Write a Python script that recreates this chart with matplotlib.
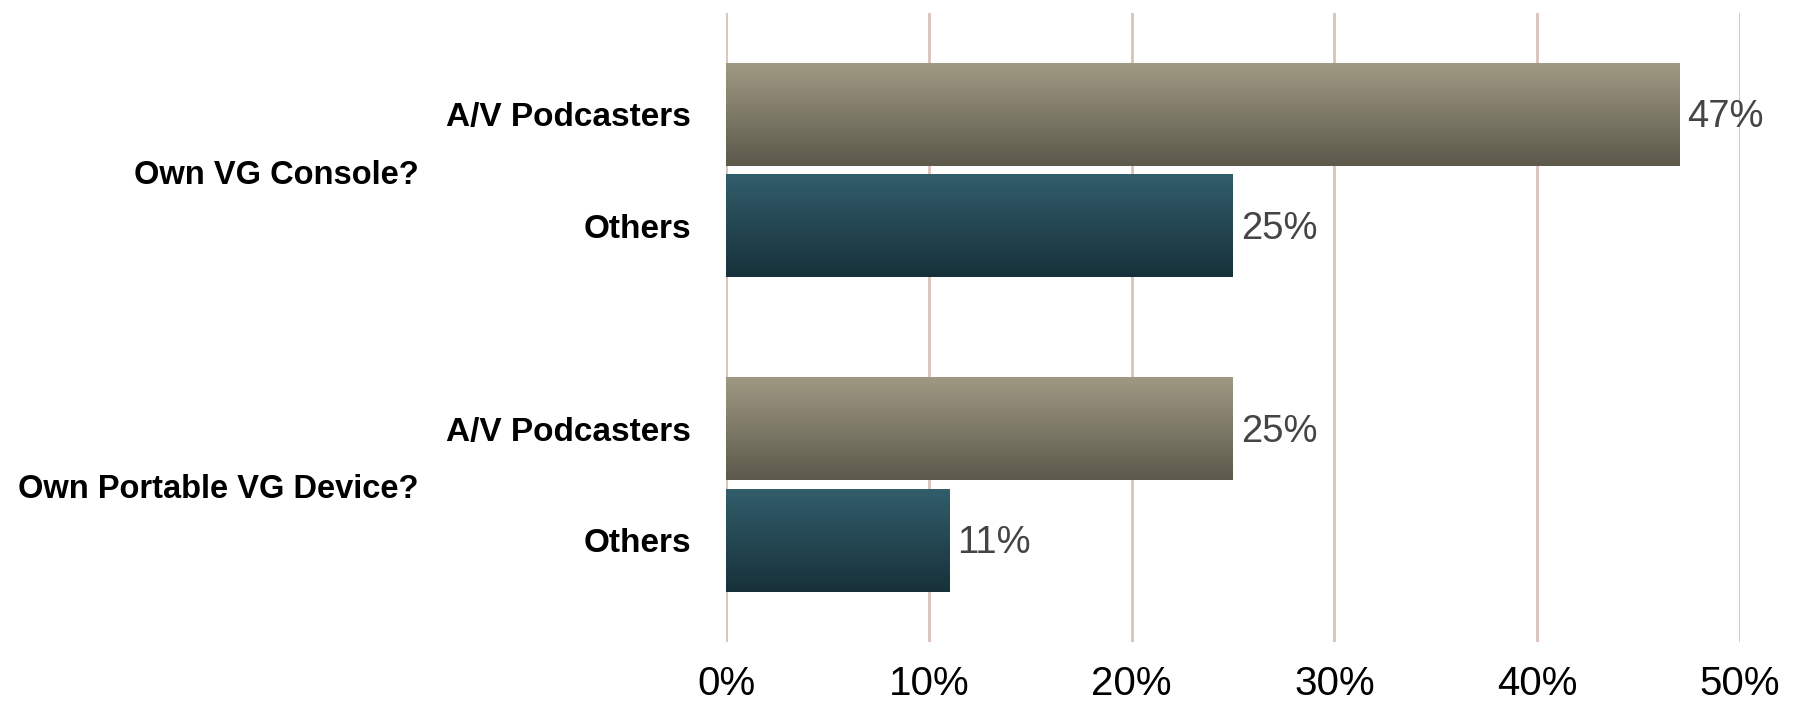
import numpy as np
import matplotlib
matplotlib.use("Agg")
import matplotlib.pyplot as plt
from matplotlib.colors import LinearSegmentedColormap

groups = ["Own VG Console?", "Own Portable VG Device?"]
series = ["A/V Podcasters", "Others"]
podcasters = [47, 25]
others = [25, 11]
xticks = [0, 10, 20, 30, 40, 50]
xticklabels = ["0%", "10%", "20%", "30%", "40%", "50%"]

plt.rcParams['font.family'] = ['Liberation Sans', 'DejaVu Sans']

fig = plt.figure(figsize=(18.01, 7.05), dpi=100)
ax = fig.add_axes([0.4031, 0.0898, 0.5630, 0.892])

grad_colors = [
    ("#a09a84", "#5c594b"),
    ("#325e6c", "#17313a"),
]
bar_h = 0.328
offset = 0.177
ypos_all, ylabels = [], []
for si, vals in enumerate([podcasters, others]):
    top_c, bot_c = grad_colors[si]
    cmap = LinearSegmentedColormap.from_list("g%d" % si, [top_c, bot_c])
    for gi, v in enumerate(vals):
        y = gi + (-offset if si == 0 else offset)
        ypos_all.append(y)
        ylabels.append(series[si])
        bars = ax.barh(y, v, height=bar_h, color=top_c, zorder=2)
        patch = bars[0]
        grad = np.linspace(0, 1, 256).reshape(-1, 1)
        im = ax.imshow(grad, cmap=cmap, aspect='auto',
                       extent=(0, v, y + bar_h / 2, y - bar_h / 2),
                       origin='upper', zorder=3)
        im.set_clip_path(patch)
        ax.annotate(f"{v}%", xy=(v, y), xycoords='data',
                    xytext=(8, -3), textcoords='offset pixels',
                    va='center', ha='left', fontsize=27.5,
                    color='#454545', zorder=4)

ax.set_xlim(0, 50)
ax.set_ylim(1.5, -0.5)
ax.set_xticks(xticks)
ax.set_xticklabels(xticklabels, fontsize=29, color='black')
ax.set_yticks(ypos_all)
ax.set_yticklabels(ylabels, fontsize=24, fontweight='bold')
ax.tick_params(axis='both', length=0)
ax.tick_params(axis='y', pad=25)
ax.tick_params(axis='x', pad=17)
for s in ax.spines.values():
    s.set_visible(False)
ax.grid(axis='x', color='#d8c2ba', linewidth=2, zorder=0)
ax.set_axisbelow(True)

for gi, g in enumerate(groups):
    ax.annotate(g, xy=(0, gi), xycoords=('axes fraction', 'data'),
                xytext=(-307, -5), textcoords='offset pixels',
                ha='right', va='center', fontsize=23.5, fontweight='bold')

fig.savefig("out.png", dpi=100)
